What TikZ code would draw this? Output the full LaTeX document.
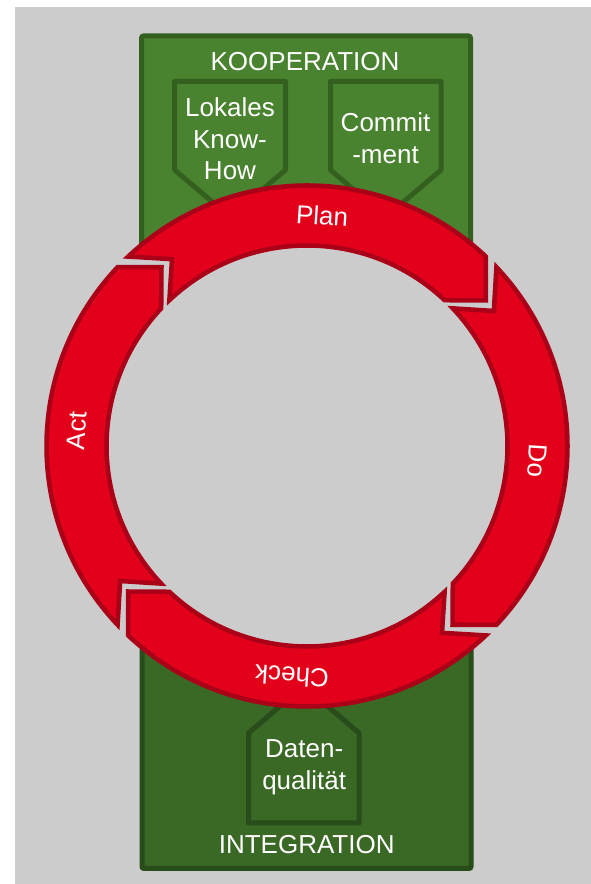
\documentclass[tikz,border=0pt]{standalone}
\usepackage{fontspec}
\setmainfont{Liberation Sans}
\definecolor{bggray}{RGB}{204,204,204}
\definecolor{gtop}{RGB}{74,131,47}
\definecolor{gtopb}{RGB}{52,96,31}
\definecolor{gbot}{RGB}{58,104,37}
\definecolor{gbotb}{RGB}{40,76,26}
\definecolor{rfill}{RGB}{226,0,26}
\definecolor{rline}{RGB}{170,0,24}
\begin{document}
\begin{tikzpicture}[x=0.75pt,y=0.75pt,
  txt/.style={text=white,inner sep=0pt,font=\fontsize{19.5}{24}\selectfont},
  topbox/.style={fill=gtop,draw=gtopb,line width=3.75pt,rounded corners=1.5pt},
  botbox/.style={fill=gbot,draw=gbotb,line width=3.75pt,rounded corners=1.5pt},
  toptag/.style={fill=gtop,draw=gtopb,line width=3.75pt,line join=round},
  bottag/.style={fill=gbot,draw=gbotb,line width=3.75pt,line join=round},
  arrowseg/.style={fill=rfill,draw=rline,line width=3.4pt,line join=miter}]
\useasboundingbox (0,0) rectangle (591,884);
\fill[white] (0,0) rectangle (591,884);
\fill[bggray] (15,0) rectangle (591,877);
% green panels
\draw[topbox] (141.5,438) rectangle (470.5,848);
\draw[botbox] (142,15.5) rectangle (471,438);
% tags
\draw[toptag] (174.7,802.7) -- (285.5,802.7) -- (285.5,714) -- (230.1,667) -- (174.7,714) -- cycle;
\draw[toptag] (330.5,802.7) -- (441,802.7) -- (441,714) -- (385.75,667) -- (330.5,714) -- cycle;
\draw[bottag] (248.5,61) -- (359,61) -- (359,151) -- (303.75,198) -- (248.5,151) -- cycle;
% panel texts
\node[txt,anchor=base] (koop) at (305,813.3) {KOOPERATION};
\node[txt,anchor=base] (integ) at (306.7,30.7) {INTEGRATION};
\node[txt,anchor=base] (lk1) at (230,767.3) {Lokales};
\node[txt,anchor=base] (lk2) at (230,735.7) {Know-};
\node[txt,anchor=base] (lk3) at (230,704) {How};
\node[txt,anchor=base] (cm1) at (385.5,752.3) {Commit};
\node[txt,anchor=base] (cm2) at (385.5,720) {-ment};
\node[txt,anchor=base] (dq1) at (304.2,126) {Daten-};
\node[txt,anchor=base] (dq2) at (304.2,94) {qualität};
% PDCA ring
\begin{scope}[shift={(307,438)}]
  \fill[bggray] (0,0) circle[radius=260.5];
  \foreach \T/\H in {133.35/46.65, 43.35/-43.35, -46.65/-133.35, -136.65/-223.35} {
    \draw[arrowseg] (\T:260.5) arc[start angle=\T, end angle=\H, radius=260.5]
      -- ({\H-7.5}:230.5) -- (\H:200.5)
      arc[start angle=\H, end angle=\T, radius=200.5]
      -- ({\T-7.5}:230.5) -- cycle;
  }
  \node[txt,rotate=-3.75] (plan) at (86.25:231) {Plan};
  \node[txt,rotate=-93.75] (do) at (-3.75:231) {Do};
  \node[txt,rotate=176.25] (check) at (-93.75:231) {Check};
  \node[txt,rotate=86.25] (act) at (176.25:231) {Act};
\end{scope}
\end{tikzpicture}
\end{document}
